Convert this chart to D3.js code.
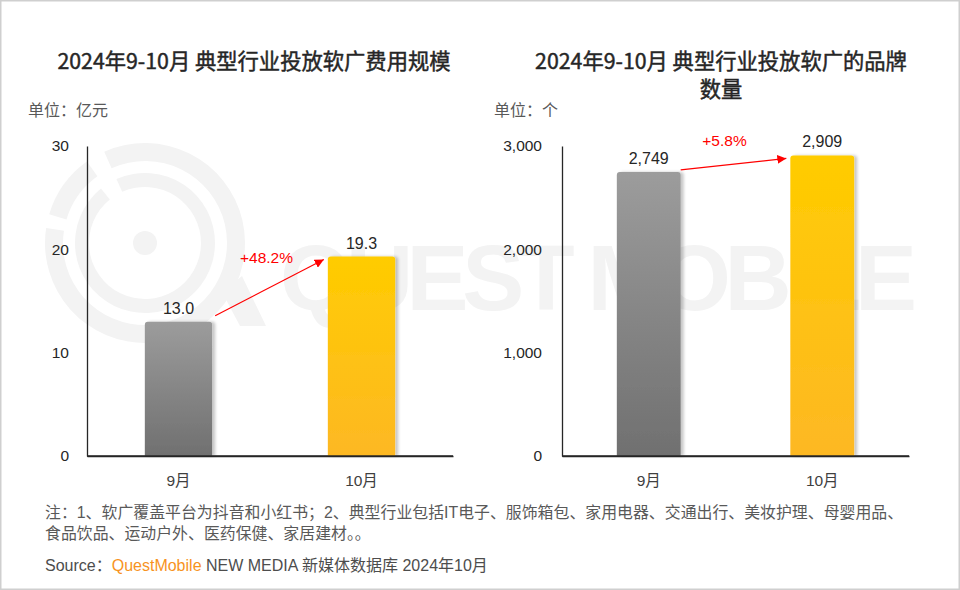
<!DOCTYPE html>
<html>
<head>
<meta charset="utf-8">
<script src="https://cdn.jsdelivr.net/npm/d3@7/dist/d3.min.js"></script>
<style>
  html, body { margin: 0; padding: 0; background: #fff; }
  svg { display: block; }
  text { font-family: "Liberation Sans", Arial, "Noto Sans CJK SC", sans-serif; }
  .cjk { font-family: "Liberation Sans", "Noto Sans CJK SC", sans-serif; }
  .title { font-family: "Noto Sans CJK SC", sans-serif; }
</style>
</head>
<body>
<svg id="chart" width="960" height="590"></svg>
<script>
// chart data
const months = ["9月", "10月"];
const spendValues = [13.0, 19.3];        // 亿元
const brandValues = [2749, 2909];        // 个
const spendTicks = [0, 10, 20, 30];
const brandTicks = [0, 1000, 2000, 3000];
const spendGrowth = "+48.2%";
const brandGrowth = "+5.8%";

const noteLines = [
  "注：1、软广覆盖平台为抖音和小红书；2、典型行业包括IT电子、服饰箱包、家用电器、交通出行、美妆护理、母婴用品、",
  "食品饮品、运动户外、医药保健、家居建材。。"
];

const W = 960, H = 590;
const svg = d3.select("#chart");
const defs = svg.append("defs");

// bar gradients
const gradGrey = defs.append("linearGradient").attr("id", "grad-grey")
  .attr("x1", 0).attr("y1", 0).attr("x2", 0).attr("y2", 1);
gradGrey.append("stop").attr("offset", "0%").attr("stop-color", "#9c9c9c");
gradGrey.append("stop").attr("offset", "100%").attr("stop-color", "#707070");

const gradGold = defs.append("linearGradient").attr("id", "grad-gold")
  .attr("x1", 0).attr("y1", 0).attr("x2", 0).attr("y2", 1);
gradGold.append("stop").attr("offset", "0%").attr("stop-color", "#ffcc00");
gradGold.append("stop").attr("offset", "100%").attr("stop-color", "#fdb824");

const shadow = defs.append("filter").attr("id", "bar-shadow")
  .attr("x", "-20%").attr("y", "-5%").attr("width", "140%").attr("height", "110%");
shadow.append("feDropShadow").attr("dx", 3).attr("dy", 0).attr("stdDeviation", 1.6)
  .attr("flood-color", "#000").attr("flood-opacity", 0.22);

defs.append("marker").attr("id", "arrow-red")
  .attr("viewBox", "0 0 10 10").attr("refX", 10).attr("refY", 5)
  .attr("markerWidth", 9).attr("markerHeight", 9).attr("markerUnits", "userSpaceOnUse")
  .attr("orient", "auto")
  .append("path").attr("d", "M0,0 L10,5 L0,10 Z").attr("fill", "#ff0000");

// frame
svg.append("rect").attr("x", 0.75).attr("y", 0.75).attr("width", W - 1.5).attr("height", H - 1.5)
  .attr("fill", "#fff").attr("stroke", "#cfcfcf").attr("stroke-width", 1.5);

// watermark (logo + wordmark), very light
const wm = svg.append("g").attr("fill", "#f3f3f3");
const logoX = 145, logoY = 243;
const arc = d3.arc();
wm.append("path").attr("transform", `translate(${logoX},${logoY})`)
  .attr("d", arc({ innerRadius: 82, outerRadius: 100, startAngle: -0.42, endAngle: 2 * Math.PI - 1.42 }));
wm.append("path").attr("transform", `translate(${logoX},${logoY})`)
  .attr("d", arc({ innerRadius: 82, outerRadius: 100, startAngle: -1.28, endAngle: -0.62 }));
wm.append("path").attr("transform", `translate(${logoX},${logoY})`)
  .attr("d", arc({ innerRadius: 56, outerRadius: 70, startAngle: -0.42, endAngle: 2 * Math.PI - 0.68 }));
wm.append("circle").attr("cx", logoX).attr("cy", logoY).attr("r", 12);
wm.append("path").attr("d", "M222,292 L242,276 L266,326 L240,326 Z");
wm.append("text").attr("x", 280).attr("y", 310)
  .attr("font-family", "Liberation Sans, Arial, sans-serif").attr("font-weight", "bold")
  .attr("font-size", 93).attr("textLength", 637).attr("lengthAdjust", "spacing")
  .text("QUEST MOBILE");

function roundTopBar(x, y, w, h, r) {
  r = Math.min(r, h, w / 2);
  return `M${x},${y + h} V${y + r} Q${x},${y} ${x + r},${y} H${x + w - r} Q${x + w},${y} ${x + w},${y + r} V${y + h} Z`;
}

function drawPanel(cfg) {
  const g = svg.append("g");

  // title (regular weight thickened a little, like a medium face)
  const title = g.append("text").attr("class", "title")
    .attr("text-anchor", "middle").attr("font-size", 21.3).attr("font-weight", 400)
    .attr("fill", "#262626").attr("stroke", "#262626").attr("stroke-width", 0.45);
  cfg.title.forEach((line, i) => {
    title.append("tspan").attr("x", cfg.titleX).attr("y", 69 + i * 28).text(line);
  });

  g.append("text").attr("class", "cjk")
    .attr("x", cfg.unitX).attr("y", 116).attr("font-size", 16).attr("fill", "#595959")
    .text(cfg.unit);

  const x = d3.scaleBand().domain(months).range([cfg.left, cfg.right])
    .paddingInner(0.632).paddingOuter(0.316);
  const y = d3.scaleLinear().domain(d3.extent(cfg.ticks)).range([456, 146]);

  // y axis: line + labels, no tick marks
  const yAxis = d3.axisLeft(y).tickValues(cfg.ticks).tickSize(0).tickPadding(cfg.tickPad)
    .tickFormat(cfg.fmt);
  const ya = g.append("g").attr("transform", `translate(${cfg.left},0)`).call(yAxis);
  ya.select(".domain").attr("stroke", "#262626").attr("stroke-width", 1.3);
  ya.selectAll("text").attr("font-size", 15.5).attr("fill", "#262626")
    .attr("font-family", "Liberation Sans, Arial, sans-serif").attr("dy", "0.32em");

  const xAxis = d3.axisBottom(x).tickSize(0).tickPadding(19);
  const xa = g.append("g").attr("transform", "translate(0,456)").call(xAxis);
  xa.select(".domain").attr("stroke", "#262626").attr("stroke-width", 1.3);
  xa.selectAll("text").attr("class", "cjk").attr("font-size", 15.5).attr("fill", "#404040");

  const fills = ["url(#grad-grey)", "url(#grad-gold)"];
  g.selectAll("path.bar").data(cfg.values).enter().append("path")
    .attr("class", "bar")
    .attr("d", (d, i) => roundTopBar(x(months[i]), y(d), x.bandwidth(), 456 - y(d), 3))
    .attr("fill", (d, i) => fills[i])
    .attr("filter", "url(#bar-shadow)");

  // re-draw x axis line over bar bottoms
  g.append("line").attr("x1", cfg.left).attr("x2", cfg.right).attr("y1", 456).attr("y2", 456)
    .attr("stroke", "#262626").attr("stroke-width", 1.3);

  g.selectAll("text.val").data(cfg.values).enter().append("text")
    .attr("class", "val")
    .attr("x", (d, i) => x(months[i]) + x.bandwidth() / 2)
    .attr("y", d => y(d) - 8)
    .attr("text-anchor", "middle").attr("font-size", 16).attr("fill", "#262626")
    .text(cfg.valFmt);

  // growth arrow between bar tops
  const x1 = x(months[0]) + x.bandwidth() + cfg.arrowStart[0];
  const y1 = y(cfg.values[0]) + cfg.arrowStart[1];
  const x2 = x(months[1]) - 4;
  const y2 = y(cfg.values[1]) + 3;
  g.append("line").attr("x1", x1).attr("y1", y1).attr("x2", x2).attr("y2", y2)
    .attr("stroke", "#ff0000").attr("stroke-width", 1.2)
    .attr("marker-end", "url(#arrow-red)");
  g.append("text")
    .attr("x", (x1 + x2) / 2 + cfg.growthDx).attr("y", y(cfg.values[1]) + cfg.growthDy)
    .attr("text-anchor", "middle").attr("font-size", 15.5).attr("fill", "#ff0000")
    .text(cfg.growth);
}

drawPanel({
  title: ["2024年9-10月 典型行业投放软广费用规模"],
  titleX: 254,
  unit: "单位：亿元",
  unitX: 28,
  left: 87, right: 453,
  ticks: spendTicks,
  fmt: d3.format("d"),
  tickPad: 18,
  values: spendValues,
  valFmt: d3.format(".1f"),
  growth: spendGrowth,
  arrowStart: [3, -6],
  growthDx: -3, growthDy: 6
});

drawPanel({
  title: ["2024年9-10月 典型行业投放软广的品牌", "数量"],
  titleX: 721,
  unit: "单位：个",
  unitX: 494,
  left: 562, right: 909,
  ticks: brandTicks,
  fmt: d3.format(","),
  tickPad: 20,
  values: brandValues,
  valFmt: d3.format(","),
  growth: brandGrowth,
  arrowStart: [0, -2],
  growthDx: -9, growthDy: -9
});

// notes
const notes = svg.append("g").attr("font-size", 15.9).attr("fill", "#595959");
noteLines.forEach((line, i) => {
  notes.append("text").attr("class", "cjk").attr("x", 45).attr("y", 518 + i * 21).text(line);
});

const src = svg.append("text").attr("class", "cjk").attr("x", 45).attr("y", 571)
  .attr("font-size", 16).attr("fill", "#4d4d4d");
src.append("tspan").text("Source：");
src.append("tspan").attr("fill", "#f7931e").text("QuestMobile");
src.append("tspan").text(" NEW MEDIA 新媒体数据库 2024年10月");
</script>
</body>
</html>
